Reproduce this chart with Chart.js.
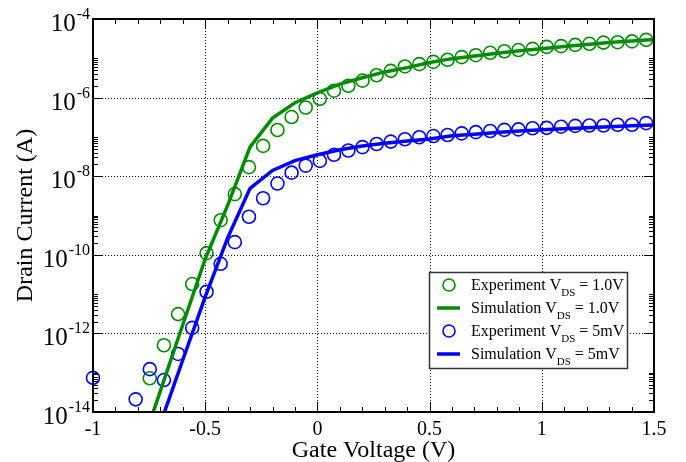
<!DOCTYPE html>
<html>
<head>
<meta charset="utf-8">
<script src="https://cdn.jsdelivr.net/npm/chart.js@4/dist/chart.umd.min.js"></script>
<style>
  html, body { margin: 0; background: #fff; }
  #wrap { width: 686px; height: 462px; }
</style>
</head>
<body>
<div id="wrap"><canvas id="chart"></canvas></div>
<script>
// ---- data -------------------------------------------------------------------

// gate voltage of the measured points (V)
const expVg = [-0.747, -0.684, -0.621, -0.558, -0.494, -0.431, -0.368, -0.305, -0.242, -0.178,
               -0.115, -0.052, 0.011, 0.074, 0.138, 0.201, 0.264, 0.327, 0.390, 0.454,
               0.517, 0.580, 0.643, 0.706, 0.770, 0.833, 0.896, 0.959, 1.022, 1.086,
               1.149, 1.212, 1.275, 1.338, 1.402, 1.465];
const expVgLow = [-1.000, -0.810].concat(expVg);

// drain current, experiment (A)
const expHigh = [7.2e-14, 5.0e-13, 3.1e-12, 1.8e-11, 1.1e-10, 7.6e-10, 3.5e-9, 1.7e-8, 5.9e-8, 1.5e-7,
                 3.2e-7, 5.6e-7, 9.3e-7, 1.5e-6, 2.0e-6, 2.7e-6, 3.7e-6, 4.8e-6, 6.2e-6, 7.1e-6,
                 8.1e-6, 9.2e-6, 1.07e-5, 1.2e-5, 1.38e-5, 1.51e-5, 1.62e-5, 1.74e-5, 1.95e-5, 2.04e-5,
                 2.19e-5, 2.34e-5, 2.51e-5, 2.57e-5, 2.69e-5, 2.95e-5];
const expLow = [7.4e-14, 2.1e-14, 1.23e-13, 6.5e-14, 3.0e-13, 1.38e-12, 1.15e-11, 5.9e-11, 2.1e-10, 9.3e-10,
                2.75e-9, 6.5e-9, 1.23e-8, 1.86e-8, 2.45e-8, 3.5e-8, 4.5e-8, 5.5e-8, 6.6e-8, 7.6e-8,
                8.7e-8, 9.8e-8, 1.05e-7, 1.12e-7, 1.23e-7, 1.32e-7, 1.41e-7, 1.51e-7, 1.55e-7, 1.66e-7,
                1.70e-7, 1.82e-7, 1.91e-7, 1.95e-7, 1.95e-7, 2.04e-7, 2.04e-7, 2.24e-7];

// simulation
const simVg = [-0.8, -0.7, -0.6, -0.5, -0.4, -0.3, -0.2, -0.1, 0, 0.1, 0.2, 0.3,
               0.4, 0.5, 0.6, 0.7, 0.8, 0.9, 1.0, 1.1, 1.2, 1.3, 1.4, 1.5];
const simHigh = [7.2e-16, 3.4e-14, 1.66e-12, 7.8e-11, 1.8e-9, 5.6e-8, 3.0e-7, 7.4e-7, 1.32e-6, 2.2e-6, 3.2e-6, 4.5e-6,
                 5.8e-6, 7.8e-6, 9.8e-6, 1.15e-5, 1.35e-5, 1.55e-5, 1.74e-5, 2.0e-5, 2.24e-5, 2.51e-5, 2.75e-5, 3.0e-5];
const simLow = [1.2e-16, 5.0e-15, 2.1e-13, 8.5e-12, 2.7e-10, 4.9e-9, 1.4e-8, 2.5e-8, 3.5e-8, 4.7e-8, 5.9e-8, 6.9e-8,
                7.9e-8, 8.9e-8, 1.07e-7, 1.17e-7, 1.29e-7, 1.41e-7, 1.51e-7, 1.62e-7, 1.70e-7, 1.82e-7, 1.91e-7, 2.0e-7];

// axes
const xTicks = [-1, -0.5, 0, 0.5, 1, 1.5];
const xTickLabels = ['-1', '-0.5', '0', '0.5', '1', '1.5'];
const yExps = [-14, -12, -10, -8, -6, -4];

const GREEN = '#008c00';
const BLUE = '#0000ff';
const FONT = '"Liberation Serif", "DejaVu Serif", serif';

const legendItems = [
  { kind: 'circle', color: GREEN, label: 'Experiment V', sub: 'DS', tail: ' = 1.0V' },
  { kind: 'line',   color: GREEN, label: 'Simulation V', sub: 'DS', tail: ' = 1.0V' },
  { kind: 'circle', color: BLUE,  label: 'Experiment V', sub: 'DS', tail: ' = 5mV' },
  { kind: 'line',   color: BLUE,  label: 'Simulation V', sub: 'DS', tail: ' = 5mV' }
];

const pts = (xs, ys) => xs.map((x, i) => ({ x, y: ys[i] }));

// ---- decorations (grid, frame, ticks, labels, legend) -----------------------

function hline(ctx, x0, x1, y) { ctx.beginPath(); ctx.moveTo(x0, y); ctx.lineTo(x1, y); ctx.stroke(); }
function vline(ctx, x, y0, y1) { ctx.beginPath(); ctx.moveTo(x, y0); ctx.lineTo(x, y1); ctx.stroke(); }

const decor = {
  id: 'decor',
  beforeDatasetsDraw(chart) {
    const { ctx, chartArea: a, scales: { x, y } } = chart;
    ctx.save();
    ctx.strokeStyle = '#000';
    ctx.lineWidth = 1;
    ctx.setLineDash([1, 2]);
    xTicks.slice(1, -1).forEach(v => vline(ctx, Math.round(x.getPixelForValue(v)) + 0.5, a.top, a.bottom));
    yExps.slice(1, -1).forEach(e => hline(ctx, a.left, a.right, Math.round(y.getPixelForValue(Math.pow(10, e))) + 0.5));
    ctx.restore();
  },
  afterDatasetsDraw(chart) {
    const { ctx, chartArea: a, scales: { x, y } } = chart;
    ctx.save();
    ctx.strokeStyle = '#000';
    ctx.lineWidth = 1;

    // x ticks, bottom and top
    for (let i = -10; i <= 15; i++) {
      const v = i / 10;
      const px = Math.round(x.getPixelForValue(v)) + 0.5;
      const len = i % 5 === 0 ? 10 : 5;
      vline(ctx, px, a.bottom, a.bottom - len);
      vline(ctx, px, a.top, a.top + len);
    }
    // y ticks, left and right
    yExps.forEach((e, idx) => {
      const py = Math.round(y.getPixelForValue(Math.pow(10, e))) + 0.5;
      hline(ctx, a.left, a.left + 10, py);
      hline(ctx, a.right, a.right - 10, py);
      if (idx === yExps.length - 1) return;
      for (let k = 2; k <= 10; k++) {
        const pm = Math.round(y.getPixelForValue(k * Math.pow(10, e))) + 0.5;
        hline(ctx, a.left, a.left + 5, pm);
        hline(ctx, a.right, a.right - 5, pm);
      }
    });

    // frame
    ctx.lineWidth = 2;
    ctx.strokeRect(a.left, a.top, a.right - a.left, a.bottom - a.top);

    // x tick labels
    ctx.fillStyle = '#000';
    ctx.font = '20px ' + FONT;
    ctx.textAlign = 'center';
    ctx.textBaseline = 'alphabetic';
    xTicks.forEach((v, i) => ctx.fillText(xTickLabels[i], x.getPixelForValue(v), a.bottom + 23));

    // y tick labels: 10^e
    yExps.forEach(e => {
      const py = y.getPixelForValue(Math.pow(10, e));
      const sup = String(e);
      ctx.font = '16px ' + FONT;
      const ws = ctx.measureText(sup).width;
      ctx.textAlign = 'left';
      ctx.fillText(sup, 90 - ws, py);
      ctx.font = '25px ' + FONT;
      ctx.textAlign = 'right';
      ctx.fillText('10', 89 - ws, py + 12);
    });

    // axis titles
    ctx.font = '24px ' + FONT;
    ctx.textAlign = 'center';
    ctx.fillText('Gate Voltage (V)', (a.left + a.right) / 2, 457);
    ctx.save();
    ctx.translate(32, (a.top + a.bottom) / 2);
    ctx.rotate(-Math.PI / 2);
    ctx.fillText('Drain Current (A)', 0, 0);
    ctx.restore();

    // legend
    const bx = 429.5, by = 272.5, bw = 198, bh = 96;
    ctx.fillStyle = '#fff';
    ctx.fillRect(bx, by, bw, bh);
    ctx.strokeStyle = '#333';
    ctx.lineWidth = 1.5;
    ctx.strokeRect(bx, by, bw, bh);
    legendItems.forEach((it, i) => {
      const ry = 285 + i * 23;
      if (it.kind === 'circle') {
        ctx.strokeStyle = it.color;
        ctx.lineWidth = 1.6;
        ctx.beginPath();
        ctx.arc(449, ry, 6, 0, Math.PI * 2);
        ctx.stroke();
      } else {
        ctx.strokeStyle = it.color;
        ctx.lineWidth = 3.5;
        hline(ctx, 437, 460, ry);
      }
      ctx.fillStyle = '#000';
      ctx.textAlign = 'left';
      ctx.font = '16px ' + FONT;
      let tx = 471;
      ctx.fillText(it.label, tx, ry + 5);
      tx += ctx.measureText(it.label).width;
      ctx.font = '11px ' + FONT;
      ctx.fillText(it.sub, tx, ry + 11);
      tx += ctx.measureText(it.sub).width;
      ctx.font = '16px ' + FONT;
      ctx.fillText(it.tail, tx, ry + 5);
    });
    ctx.restore();
  }
};

// ---- chart ------------------------------------------------------------------

const circleSet = (data, color) => ({
  type: 'scatter', data, showLine: false, clip: false,
  pointStyle: 'circle', pointRadius: 6.5, pointBorderWidth: 1.6,
  borderColor: color, backgroundColor: 'rgba(0,0,0,0)'
});
const lineSet = (data, color) => ({
  type: 'line', data, borderColor: color, borderWidth: 3.5,
  pointRadius: 0, tension: 0, fill: false
});

new Chart(document.getElementById('chart'), {
  type: 'scatter',
  data: {
    datasets: [
      lineSet(pts(simVg, simLow), BLUE),
      lineSet(pts(simVg, simHigh), GREEN),
      circleSet(pts(expVgLow, expLow), BLUE),
      circleSet(pts(expVg, expHigh), GREEN)
    ]
  },
  options: {
    responsive: true,
    maintainAspectRatio: false,
    animation: false,
    layout: { padding: { left: 93, top: 19, right: 32, bottom: 50 } },
    scales: {
      x: { type: 'linear', min: -1, max: 1.5, display: false },
      y: { type: 'logarithmic', min: 1e-14, max: 1e-4, display: false }
    },
    plugins: { legend: { display: false }, tooltip: { enabled: false } }
  },
  plugins: [decor]
});
</script>
</body>
</html>
